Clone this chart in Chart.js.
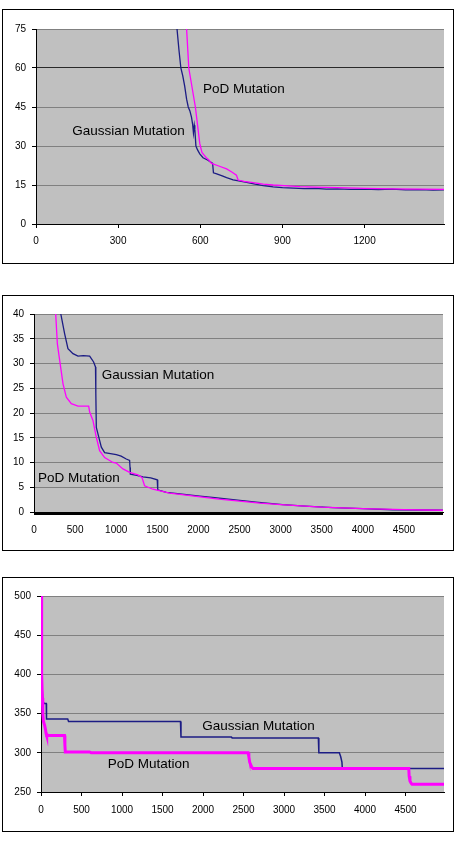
<!DOCTYPE html>
<html>
<head>
<meta charset="utf-8">
<script src="https://cdn.jsdelivr.net/npm/chart.js@4.4.1/dist/chart.umd.min.js"></script>
<style>
  body { margin: 0; background: #fff; }
  .box { position: absolute; left: 2px; width: 452px; border: 1px solid #000; box-sizing: border-box; background: #fff; }
  .box canvas { position: absolute; left: 0; top: 0; }
</style>
</head>
<body>
<div class="box" style="top:9px;height:255px"><canvas id="c1" width="450" height="253"></canvas></div>
<div class="box" style="top:295px;height:256px"><canvas id="c2" width="450" height="254"></canvas></div>
<div class="box" style="top:577px;height:255px"><canvas id="c3" width="450" height="253"></canvas></div>
<script>
// chart 1
var gaussGen1 = [515, 522, 529, 536, 543, 550, 556, 562, 568, 572, 575, 578, 580, 584, 590, 598, 610, 628, 645, 648, 660, 680, 696, 720, 745, 769, 800, 830, 866, 900, 940, 980, 1020, 1060, 1100, 1150, 1200, 1250, 1300, 1350, 1400, 1450, 1490];
var gaussVal1 = [75, 67, 60, 57, 53, 48, 45, 43.5, 41, 38.3, 35, 38, 36.5, 30, 28.5, 27, 25.5, 24.5, 23.3, 19.7, 19.3, 18.5, 17.8, 17, 16.5, 16, 15.3, 14.8, 14.3, 14, 13.8, 13.6, 13.7, 13.4, 13.5, 13.3, 13.4, 13.2, 13.4, 13.1, 13.2, 13, 13.1];
var podGen1 = [550, 558, 566, 574, 582, 590, 598, 606, 614, 622, 632, 641, 665, 696, 715, 732, 738, 760, 793, 830, 866, 920, 964, 1020, 1100, 1200, 1300, 1400, 1490];
var podVal1 = [75, 60, 55, 50, 45, 38, 31, 27.5, 26.5, 25.5, 24.5, 23.3, 22.4, 21.2, 20, 18.8, 16.9, 16.4, 15.9, 15.3, 15, 14.7, 14.4, 14.2, 14, 13.7, 13.5, 13.4, 13.3];
var xTicks1 = [0, 300, 600, 900, 1200];
var yTicks1 = [0, 15, 30, 45, 60, 75];

// chart 2
var gaussGen2 = [326, 373, 413, 474, 535, 600, 677, 725, 748, 752, 758, 778, 819, 859, 930, 1001, 1060, 1122, 1163, 1168, 1172, 1250, 1325, 1420, 1499, 1503, 1507, 1609, 1800, 2016, 2200, 2420, 2700, 3025, 3300, 3633, 4000, 4363, 4700, 4975];
var gaussVal2 = [40, 36, 33, 32, 31.5, 31.6, 31.5, 30.3, 29.3, 24, 17.1, 15.8, 13.1, 12, 11.8, 11.6, 11.3, 10.7, 10.4, 9, 7.65, 7.4, 7.1, 6.9, 6.5, 5, 4.47, 3.95, 3.6, 3.2, 2.9, 2.5, 2.0, 1.5, 1.2, 0.9, 0.7, 0.45, 0.4, 0.35];
var podGen2 = [264, 284, 312, 353, 393, 454, 535, 600, 665, 677, 717, 758, 798, 859, 960, 1001, 1082, 1163, 1264, 1313, 1345, 1446, 1649, 1850, 2000, 2250, 2500, 2750, 3000, 3250, 3500, 3750, 4000, 4250, 4500, 4750, 4975];
var podVal2 = [40, 34, 30.7, 25.9, 23.2, 21.9, 21.4, 21.4, 21.4, 20.2, 18.5, 15.1, 12.4, 11, 10, 9.9, 8.7, 8, 7.5, 7, 5.3, 4.6, 3.8, 3.4, 3.1, 2.6, 2.2, 1.8, 1.5, 1.25, 1.0, 0.85, 0.7, 0.6, 0.5, 0.4, 0.35];
var xLabels2 = [0, 500, 1000, 1500, 2000, 2500, 3000, 3500, 4000, 4500];
var yTicks2 = [0, 5, 10, 15, 20, 25, 30, 35, 40];

// chart 3
var gaussGen3 = [0, 5, 12, 20, 30, 40, 65, 68, 330, 340, 1722, 1728, 2350, 2360, 3424, 3430, 3683, 3700, 3715, 3720, 4975];
var gaussVal3 = [450, 420, 395, 370, 364, 363, 363, 343, 343, 340, 340, 320, 320, 319, 319, 300, 300, 295, 288, 280, 280];
var podGen3 = [0, 4, 8, 12, 17, 22, 30, 45, 55, 62, 70, 290, 295, 300, 600, 620, 2556, 2566, 2576, 2600, 2617, 4540, 4545, 4555, 4570, 4580, 4975];
var podVal3 = [500, 480, 440, 400, 370, 350, 340, 335, 330, 325, 322, 322, 310, 301, 301, 300, 300, 295, 288, 282, 280, 280, 270, 264, 261, 260, 260];
var xTicks3 = [0, 500, 1000, 1500, 2000, 2500, 3000, 3500, 4000, 4500];
var yTicks3 = [250, 300, 350, 400, 450, 500];

var noteText = ["Gaussian Mutation", "PoD Mutation"];

Chart.defaults.font.family = "'Liberation Sans', Arial, sans-serif";
Chart.defaults.font.size = 10;
Chart.defaults.color = '#000';

var plotBg = {
    id: 'plotBg',
    beforeDraw: function (chart) {
        var a = chart.chartArea, ctx = chart.ctx;
        ctx.save();
        ctx.fillStyle = '#c0c0c0';
        ctx.fillRect(a.left, a.top, a.right - a.left, a.bottom - a.top);
        ctx.restore();
    }
};

var notes = {
    id: 'notes',
    afterDatasetsDraw: function (chart, args, opts) {
        var ctx = chart.ctx;
        ctx.save();
        ctx.font = "13.5px 'Liberation Sans', Arial, sans-serif";
        ctx.fillStyle = '#000';
        ctx.textAlign = 'left';
        ctx.textBaseline = 'middle';
        (opts.items || []).forEach(function (it) {
            ctx.fillText(it.text, chart.scales.x.getPixelForValue(it.x), chart.scales.y.getPixelForValue(it.y));
        });
        ctx.restore();
    }
};

function points(gen, val) {
    return gen.map(function (g, i) { return { x: g, y: val[i] }; });
}

function draw_chart(id, c) {
    new Chart(document.getElementById(id), {
        type: 'line',
        data: {
            datasets: [
                { label: 'PoD Mutation', data: points(c.podGen, c.podVal), borderColor: '#ff00ff', borderWidth: c.podWidth, pointRadius: 0, tension: 0 },
                { label: 'Gaussian Mutation', data: points(c.gaussGen, c.gaussVal), borderColor: '#1c1c84', borderWidth: c.gaussWidth, pointRadius: 0, tension: 0 }
            ]
        },
        options: {
            responsive: false,
            animation: false,
            events: [],
            layout: { padding: { left: 0, top: c.top, right: c.right, bottom: 0 } },
            plugins: {
                legend: { display: false },
                tooltip: { enabled: false },
                notes: { items: c.notes }
            },
            scales: {
                x: {
                    type: 'linear',
                    min: c.xMin, max: c.xMax,
                    afterFit: function (s) { s.height = c.xHeight; },
                    afterBuildTicks: function (s) { s.ticks = c.xTicks.map(function (v) { return { value: v }; }); },
                    ticks: {
                        autoSkip: false, maxRotation: 0, minRotation: 0, padding: c.xPad,
                        callback: function (v) { return c.xLabel(v); }
                    },
                    grid: { drawOnChartArea: false, tickLength: c.xTickLen, tickColor: '#000', tickWidth: 1 },
                    border: { color: '#000', width: 1 }
                },
                y: {
                    min: c.yTicks[0], max: c.yTicks[c.yTicks.length - 1],
                    afterFit: function (s) { s.width = c.yWidth; },
                    afterBuildTicks: function (s) { s.ticks = c.yTicks.map(function (v) { return { value: v }; }); },
                    ticks: { padding: 6 },
                    grid: {
                        color: function (ctx) { return ctx.tick && ctx.tick.value === c.darkLine ? '#2a2a2a' : '#808080'; },
                        tickLength: 4, tickColor: '#000', lineWidth: 1
                    },
                    border: { color: '#000', width: 1 }
                }
            }
        },
        plugins: [plotBg, notes]
    });
}

draw_chart('c1', {
    gaussGen: gaussGen1, gaussVal: gaussVal1, podGen: podGen1, podVal: podVal1,
    gaussWidth: 1.3, podWidth: 1.3,
    xMin: 0, xMax: 1490, xTicks: xTicks1, xLabel: function (v) { return String(v); },
    xTickLen: 4, xPad: 7, xHeight: 39, yWidth: 33, top: 19, right: 9,
    yTicks: yTicks1, darkLine: 60,
    notes: [{ text: noteText[1], x: 610, y: 51.9 }, { text: noteText[0], x: 132, y: 35.8 }]
});

var denseTicks2 = [];
for (var t = 0; t <= 4970; t += 10) denseTicks2.push(t);
draw_chart('c2', {
    gaussGen: gaussGen2, gaussVal: gaussVal2, podGen: podGen2, podVal: podVal2,
    gaussWidth: 1.3, podWidth: 1.3,
    xMin: 0, xMax: 4975, xTicks: denseTicks2,
    xLabel: function (v) { return xLabels2.indexOf(v) >= 0 ? String(v) : ''; },
    xTickLen: 3, xPad: 9, xHeight: 38, yWidth: 31, top: 18, right: 10,
    yTicks: yTicks2, darkLine: null,
    notes: [{ text: noteText[0], x: 823, y: 27.6 }, { text: noteText[1], x: 48, y: 6.9 }]
});

draw_chart('c3', {
    gaussGen: gaussGen3, gaussVal: gaussVal3, podGen: podGen3, podVal: podVal3,
    gaussWidth: 1.5, podWidth: 3,
    xMin: 0, xMax: 4975, xTicks: xTicks3, xLabel: function (v) { return String(v); },
    xTickLen: 4, xPad: 8, xHeight: 39, yWidth: 38, top: 18, right: 9,
    yTicks: yTicks3, darkLine: null,
    notes: [{ text: noteText[0], x: 1990, y: 334.2 }, { text: noteText[1], x: 823, y: 285.7 }]
});
</script>
</body>
</html>
